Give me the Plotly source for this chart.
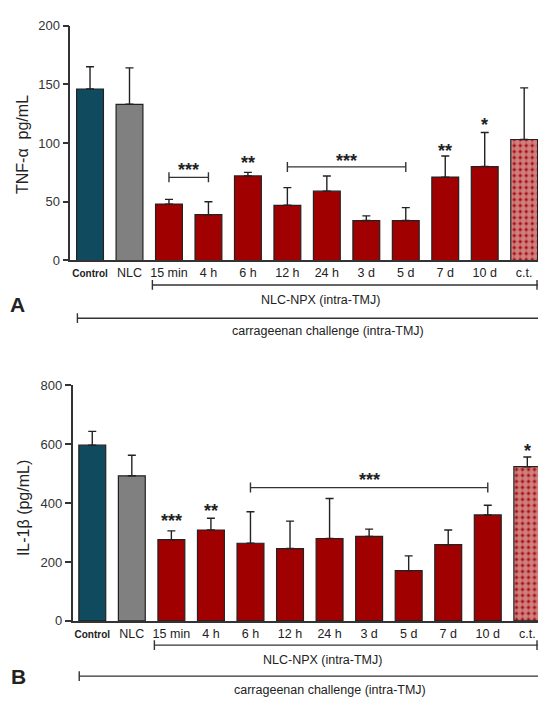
import plotly.graph_objects as go

categories = ["Control", "NLC", "15 min", "4 h", "6 h", "12 h", "24 h", "3 d", "5 d", "7 d", "10 d", "c.t."]
tick_labels = ["<b><span style='font-size:10px'>Control</span></b>", "NLC", "15 min", "4 h", "6 h",
               "12 h", "24 h", "3 d", "5 d", "7 d", "10 d", "c.t."]

tnf_mean = [146, 133, 48, 39, 72, 47, 59, 34, 34, 71, 80, 103]
tnf_sem = [19, 31, 4, 11, 3, 15, 13, 4, 11, 18, 29, 44]

il1b_mean = [597, 493, 276, 309, 264, 246, 280, 287, 171, 259, 360, 524]
il1b_sem = [47, 70, 30, 40, 107, 93, 136, 25, 50, 50, 33, 33]

# significance marks: (category index, y value, text)
tnf_stars = [(4, 83, "**"), (9, 93, "**"), (10, 115, "*")]
tnf_brackets = [(2, 3, 70.8, 77, "***"), (5, 8, 79.7, 85, "***")]
il1b_stars = [(2, 338, "***"), (3, 375, "**"), (11, 577, "*")]
il1b_brackets = [(4, 10, 453, 479, "***")]

colors = ["#0f4a5e", "#808080"] + ["#a10000"] * 10
shapes_pat = [""] * 11 + ["."]

W, H = 538, 704
AX = "#333333"
FONT = "Liberation Sans, Arial, sans-serif"

fig = go.Figure()

def add_panel(means, sems, xa, ya):
    fig.add_trace(go.Bar(
        x=list(range(len(categories))), y=means, xaxis=xa, yaxis=ya,
        width=0.68,
        marker=dict(color=colors, line=dict(color="#222222", width=1.2),
                    pattern=dict(shape=shapes_pat, fgcolor="#9a9a9a", size=6, solidity=0.75)),
        error_y=dict(type="data", array=sems, arrayminus=[0] * len(sems), symmetric=False,
                     color="#222222", thickness=1.4, width=4),
        showlegend=False, hoverinfo="skip"))

add_panel(tnf_mean, tnf_sem, "x", "y")
add_panel(il1b_mean, il1b_sem, "x2", "y2")

axis_common = dict(showline=True, linecolor=AX, linewidth=1.5, showgrid=False, zeroline=False)

fig.update_layout(
    width=W, height=H, margin=dict(l=0, r=0, t=0, b=0),
    paper_bgcolor="white", plot_bgcolor="white",
    font=dict(family=FONT, color="#222222"),
    xaxis=dict(domain=[70.3 / W, 1], range=[-0.5, 11.35], anchor="y",
               tickvals=list(range(12)), ticktext=tick_labels, ticks="",
               tickfont=dict(size=12.5, color="#222222"), **axis_common),
    yaxis=dict(domain=[1 - 259 / H, 1 - 19 / H], range=[0, 200], anchor="x",
               tickvals=[0, 50, 100, 150, 200], ticks="outside", ticklen=6, tickwidth=1.5,
               tickcolor=AX, tickfont=dict(size=13, color="#333333"), **axis_common),
    xaxis2=dict(domain=[72.5 / W, 1], range=[-0.5, 11.27], anchor="y2",
                tickvals=list(range(12)), ticktext=tick_labels, ticks="",
                tickfont=dict(size=12.5, color="#222222"), **axis_common),
    yaxis2=dict(domain=[1 - 627.3 / H, 1 - 386.7 / H], range=[0, 800], anchor="x2",
                tickvals=[0, 200, 400, 600, 800], ticks="outside", ticklen=6, tickwidth=1.5,
                tickcolor=AX, tickfont=dict(size=13, color="#333333"), **axis_common),
)

shapes = []
annotations = []

STAR_FONT = dict(size=18, color="#222222")

def add_marks(stars, brackets, xr, yr):
    for i, y, t in stars:
        annotations.append(dict(x=i, y=y, xref=xr, yref=yr, text=f"<b>{t}</b>", showarrow=False,
                                font=STAR_FONT, yanchor="middle"))
    for i0, i1, y, ty, t in brackets:
        shapes.append(dict(type="line", xref=xr, yref=yr, x0=i0, x1=i1, y0=y, y1=y,
                           line=dict(color=AX, width=1.4)))
        for xi in (i0, i1):
            shapes.append(dict(type="line", xref=xr, yref=yr, x0=xi, x1=xi,
                               ysizemode="pixel", yanchor=y, y0=-5, y1=5,
                               line=dict(color=AX, width=1.4)))
        annotations.append(dict(x=(i0 + i1) / 2, y=ty, xref=xr, yref=yr, text=f"<b>{t}</b>",
                                showarrow=False, font=STAR_FONT, yanchor="middle"))

add_marks(tnf_stars, tnf_brackets, "x", "y")
add_marks(il1b_stars, il1b_brackets, "x2", "y2")

def group_line(xr, x_start, py, cap_right=True):
    yp = 1 - py / H
    shapes.append(dict(type="line", xref=xr, yref="paper", x0=x_start, x1=12.5, y0=yp, y1=yp,
                       line=dict(color=AX, width=1.4)))
    shapes.append(dict(type="line", xref=xr, yref="paper", x0=x_start, x1=x_start,
                       y0=yp - 5 / H, y1=yp + 5 / H, line=dict(color=AX, width=1.4)))
    if cap_right:
        shapes.append(dict(type="line", xref="paper", yref="paper", x0=537 / W, x1=537 / W,
                           y0=yp - 5 / H, y1=yp + 5 / H, line=dict(color=AX, width=1.4)))

group_line("x", 1.58, 284)
group_line("x", -0.32, 318, cap_right=False)
group_line("x2", 1.57, 652)
group_line("x2", -0.33, 683.7, cap_right=False)

def ptext(x, y, text, size=12.5, angle=0, bold=False):
    annotations.append(dict(x=x / W, y=1 - y / H, xref="paper", yref="paper",
                            text=f"<b>{text}</b>" if bold else text, showarrow=False,
                            textangle=angle, xanchor="center", yanchor="middle",
                            font=dict(size=size, color="#222222", family=FONT)))

ptext(320, 299, "NLC-NPX (intra-TMJ)")
ptext(328, 331, "carrageenan challenge (intra-TMJ)")
ptext(322, 667, "NLC-NPX (intra-TMJ)")
ptext(330, 698, "carrageenan challenge (intra-TMJ)")
ptext(23, 141, "TNF-α  pg/mL", size=16, angle=-90)
ptext(23, 512, "IL-1β (pg/mL)", size=16, angle=-90)
ptext(17, 304, "A", size=21, bold=True)
ptext(18, 684, "B", size=21, bold=True)

fig.update_layout(shapes=shapes, annotations=annotations)
fig.write_html("out.html", config={"displayModeBar": False},
               post_script="document.body.style.margin='0';document.body.style.overflow='hidden';")
